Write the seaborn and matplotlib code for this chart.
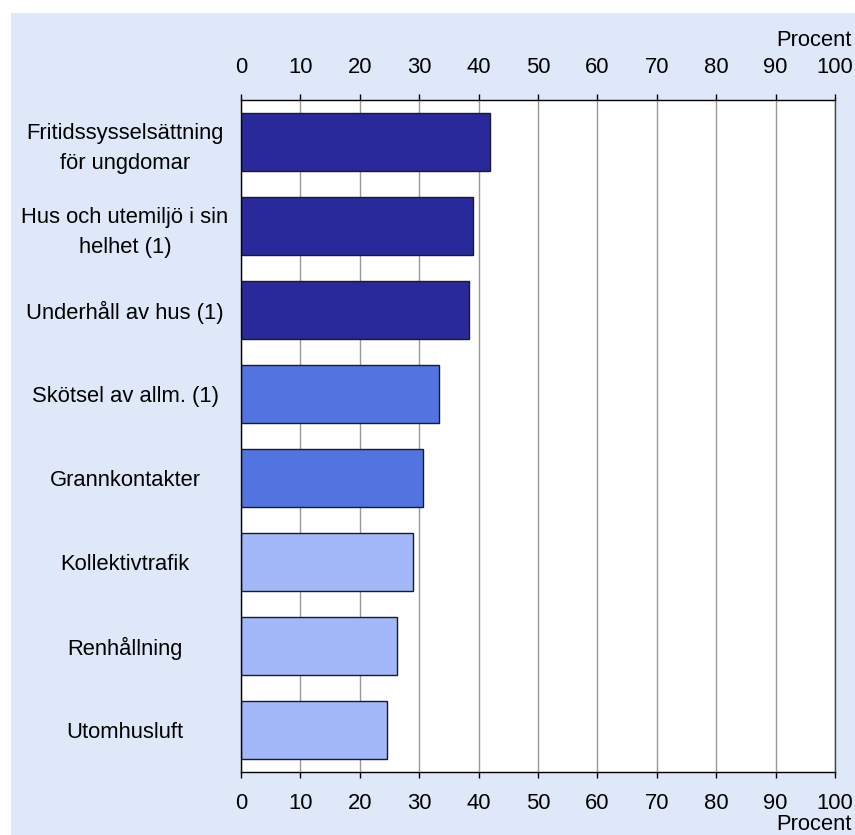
import numpy as np
import pandas as pd
import matplotlib
matplotlib.use("Agg")
import matplotlib.pyplot as plt
import matplotlib.transforms as mtransforms
from matplotlib.patches import Rectangle
import seaborn as sns

# Values
categories = [
    "Fritidssysselsättning\nför ungdomar",
    "Hus och utemiljö i sin\nhelhet (1)",
    "Underhåll av hus (1)",
    "Skötsel av allm. (1)",
    "Grannkontakter",
    "Kollektivtrafik",
    "Renhållning",
    "Utomhusluft",
]
values = [42.0, 39.0, 38.4, 33.3, 30.6, 28.9, 26.3, 24.5]
groups = ["hög", "hög", "hög", "mellan", "mellan", "låg", "låg", "låg"]
group_colors = {"hög": "#29299B", "mellan": "#5274E0", "låg": "#A2B8F8"}
xticks = list(range(0, 101, 10))

sns.set_theme(style="white")
plt.rcParams["font.family"] = ["Liberation Sans", "DejaVu Sans"]
FS = 15.8

df = pd.DataFrame({"kategori": categories, "procent": values, "grupp": groups})
palette = [group_colors[g] for g in groups]

fig = plt.figure(figsize=(8.55, 8.35), dpi=100, facecolor="white")
# light blue chart area, white strip at top and left
fig.patches.append(Rectangle((11 / 855, 0), 1, 1 - 13 / 835, transform=fig.transFigure,
                             facecolor="#DFE8F8", edgecolor="none", zorder=-10))
ax = fig.add_axes([241 / 855, 63 / 835, 594 / 855, 672 / 835])
ax.set_facecolor("white")

sns.barplot(data=df, x="procent", y="kategori", hue="kategori", palette=palette,
            legend=False, orient="h", width=0.7, edgecolor="#1a1a2a", linewidth=1.0,
            saturation=1, ax=ax)

ax.set_xlim(0, 100)
ax.set_ylim(7.5, -0.5)
ax.set_xticks(xticks)
ax.set_xticklabels([str(t) for t in xticks])
ax.set_xlabel("")
ax.set_ylabel("")

# vertical grid lines behind the bars
ax.set_axisbelow(True)
ax.xaxis.grid(True, color="#999999", linewidth=1.0)
ax.yaxis.grid(False)

for side in ["left", "top", "bottom", "right"]:
    ax.spines[side].set_visible(True)
    ax.spines[side].set_color("black")
    ax.spines[side].set_linewidth(1.0)
ax.spines["right"].set_color("#444444")

ax.tick_params(axis="x", top=True, bottom=True, labeltop=True, labelbottom=True,
               direction="out", length=4, width=1, color="black", pad=11,
               labelsize=FS, labelcolor="black")
# top labels sit a little further from the axis than the bottom ones
shift = mtransforms.ScaledTranslation(0, 1 / 72, fig.dpi_scale_trans)
for t in ax.xaxis.get_major_ticks():
    t.label2.set_transform(t.label2.get_transform() + shift)

ax.tick_params(axis="y", length=0, pad=83.5, labelsize=FS, labelcolor="black")
for lab in ax.get_yticklabels():
    lab.set_horizontalalignment("center")
    lab.set_multialignment("center")
    lab.set_linespacing(1.5)

fig.text(852 / 855, 1 - 40 / 835, "Procent", ha="right", va="center", fontsize=FS, color="black")
fig.text(852 / 855, 1 - 825 / 835, "Procent", ha="right", va="center", fontsize=FS, color="black")

fig.savefig("out.png", dpi=100, facecolor=fig.get_facecolor())
